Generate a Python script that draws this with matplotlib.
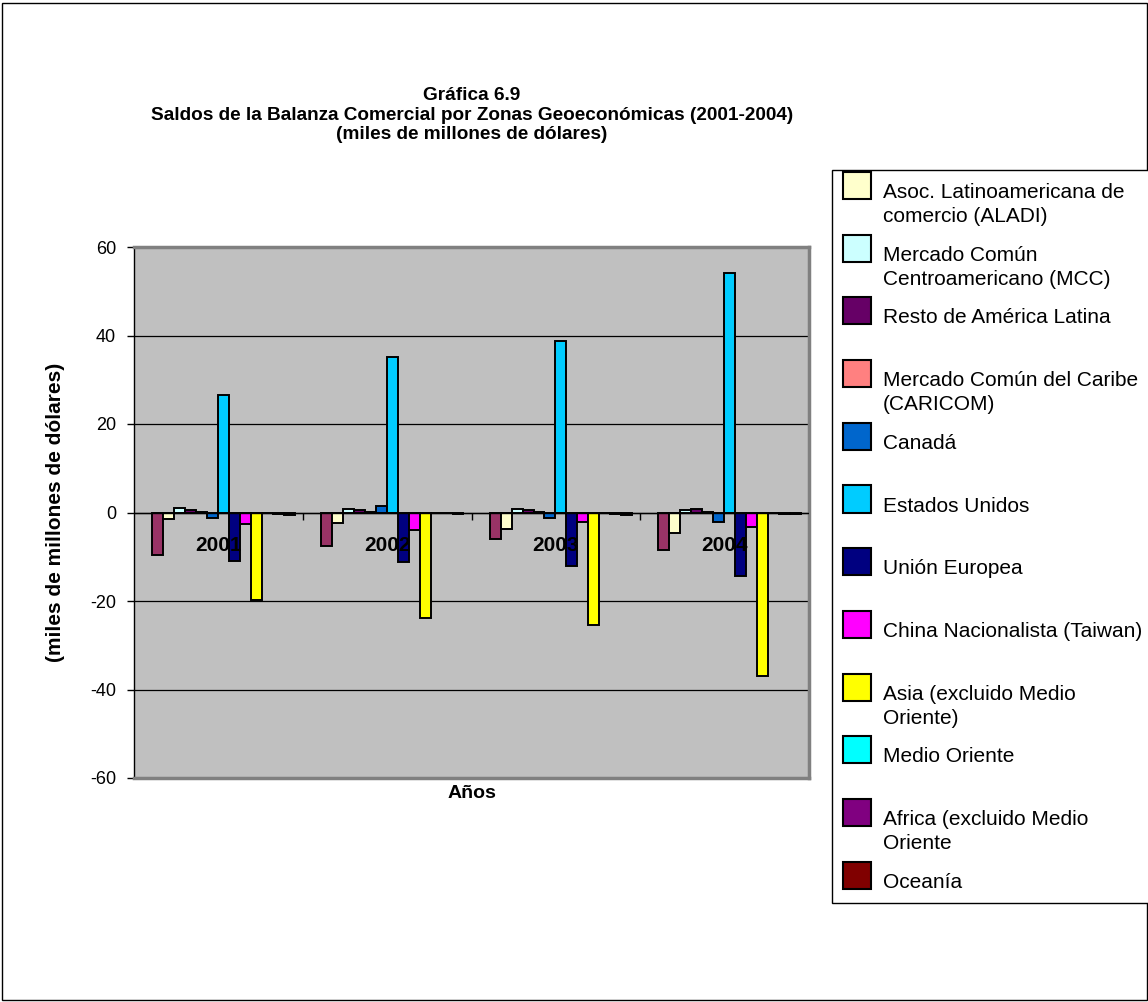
import matplotlib.pyplot as plt
from matplotlib.patches import Rectangle
import numpy as np

plt.rcParams['font.family'] = ['Liberation Sans', 'DejaVu Sans']
plt.rcParams['axes.unicode_minus'] = False

years = ['2001', '2002', '2003', '2004']

series_names = [
    '',
    'Asoc. Latinoamericana de\ncomercio (ALADI)',
    'Mercado Común\nCentroamericano (MCC)',
    'Resto de América Latina',
    'Mercado Común del Caribe\n(CARICOM)',
    'Canadá',
    'Estados Unidos',
    'Unión Europea',
    'China Nacionalista (Taiwan)',
    'Asia (excluido Medio\nOriente)',
    'Medio Oriente',
    'Africa (excluido Medio\nOriente',
    'Oceanía',
]

series_colors = ['#993366', '#FFFFCC', '#CCFFFF', '#660066', '#FF8080', '#0066CC',
                 '#00CCFF', '#000080', '#FF00FF', '#FFFF00', '#00FFFF', '#800080', '#800000']

sin_nombre = [-9.6, -7.6, -6.0, -8.5]
aladi = [-1.5, -2.3, -3.7, -4.7]
mcc = [1.1, 0.8, 0.7, 0.6]
resto_al = [0.6, 0.5, 0.5, 0.7]
caricom = [0.2, 0.1, 0.2, 0.1]
canada = [-1.2, 1.5, -1.2, -2.2]
eeuu = [26.5, 35.1, 38.8, 54.1]
ue = [-11.0, -11.1, -12.1, -14.3]
taiwan = [-2.7, -4.0, -2.2, -3.2]
asia = [-19.8, -23.8, -25.4, -37.0]
medio_oriente = [-0.2, -0.1, -0.1, -0.2]
africa = [-0.3, -0.2, -0.3, -0.3]
oceania = [-0.5, -0.4, -0.5, -0.4]

valores = [sin_nombre, aladi, mcc, resto_al, caricom, canada, eeuu, ue,
           taiwan, asia, medio_oriente, africa, oceania]

W, H = 1148, 1002
fig = plt.figure(figsize=(W / 100, H / 100), dpi=100)

# marco exterior
fig.patches.append(Rectangle((2 / W, 2 / H), (W - 3) / W, (H - 5) / H, transform=fig.transFigure,
                             fill=False, edgecolor='black', lw=1))

# area de trazado (pixeles medidos en la imagen)
left, right, top, bottom = 134, 809, 247, 778
ax = fig.add_axes([left / W, 1 - bottom / H, (right - left) / W, (bottom - top) / H])
ax.set_facecolor('#C0C0C0')

x = np.arange(len(years))
n = len(valores)
ancho = 0.065
desfase = 0.03
for i, vals in enumerate(valores):
    ax.bar(x + desfase + (i - (n - 1) / 2) * ancho, vals, width=ancho, color=series_colors[i],
           edgecolor='black', linewidth=1.4, zorder=3)

ax.set_xlim(-0.5, 3.5)
ax.set_ylim(-60, 60)
ax.set_yticks(range(-60, 61, 20))
ax.yaxis.grid(True, color='black', lw=0.9, zorder=0)
ax.tick_params(axis='y', labelsize=13, length=5, width=1, direction='out', pad=8)
ax.set_xticks([])

for s in ['top', 'right', 'bottom']:
    ax.spines[s].set_color('#808080')
    ax.spines[s].set_linewidth(2.5)
ax.spines['left'].set_color('black')
ax.spines['left'].set_linewidth(1)

# eje de categorias en cero
ax.axhline(0, color='black', lw=1, zorder=4)
ax.vlines(np.arange(0.5, 3.5, 1), -1.6, 0, color='black', lw=1, zorder=4)
for xi, yr in zip(x, years):
    ax.text(xi, -7.4, yr, ha='center', va='center', fontsize=15, fontweight='bold', zorder=5)

ax.set_ylabel('(miles de millones de dólares)', fontsize=15, fontweight='bold')
ax.yaxis.set_label_coords((65 - left) / (right - left), 0.5)
ax.set_xlabel('Años', fontsize=14, fontweight='bold', va='center')
ax.xaxis.set_label_coords(0.5, -(793 - bottom) / (bottom - top))

fig.text(472 / W, 1 - 115 / H, 'Gráfica 6.9\nSaldos de la Balanza Comercial por Zonas Geoeconómicas (2001-2004)\n(miles de millones de dólares)',
         ha='center', va='center', fontsize=13.7, fontweight='bold', linespacing=1.2)

# leyenda al estilo Excel
fig.patches.append(Rectangle((832 / W, 1 - 903 / H), (W - 832 + 20) / W, (903 - 170) / H,
                             transform=fig.transFigure, fill=True, facecolor='white',
                             edgecolor='black', lw=1))
paso = 62.7
for k, (nombre, color) in enumerate(zip(series_names[1:], series_colors[1:])):
    sq_top = 172 + paso * k
    fig.patches.append(Rectangle((843 / W, 1 - (sq_top + 27) / H), 28 / W, 27 / H,
                                 transform=fig.transFigure, facecolor=color,
                                 edgecolor='black', lw=1.5))
    for j, linea in enumerate(nombre.split('\n')):
        fig.text(883 / W, 1 - (sq_top + 26 + 24 * j) / H, linea, ha='left', va='baseline',
                 fontsize=15)

fig.savefig('out.png', dpi=100)
